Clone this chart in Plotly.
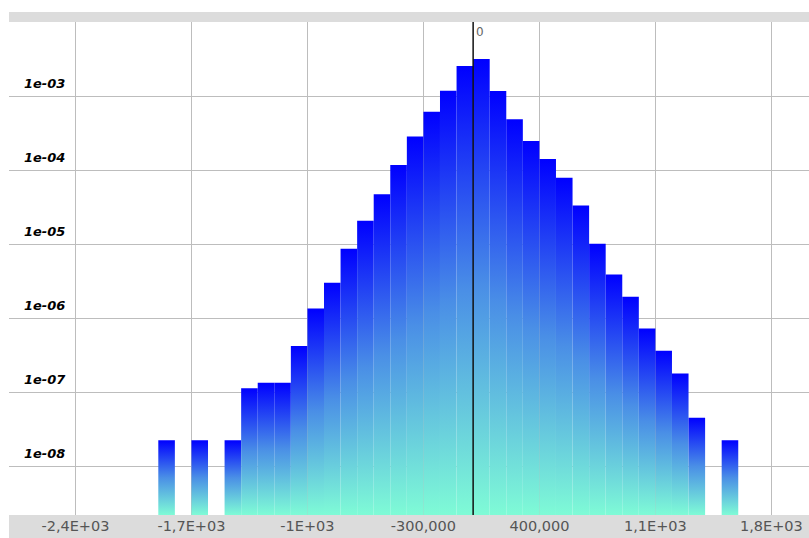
import plotly.graph_objects as go

# ---- data ----
bin_width = 100
bin_left = [-1900, -1700, -1500, -1400, -1300, -1200, -1100, -1000, -900, -800,
            -700, -600, -500, -400, -300, -200, -100, 0, 100, 200,
            300, 400, 500, 600, 700, 800, 900, 1000, 1100, 1200,
            1300, 1500]
density = [2.24e-8, 2.24e-8, 2.24e-8, 1.13e-7, 1.34e-7, 1.34e-7, 4.2e-7, 1.35e-6, 3.0e-6, 8.65e-6,
           2.07e-5, 4.7e-5, 1.17e-4, 2.85e-4, 6.14e-4, 1.18e-3, 2.54e-3, 3.16e-3, 1.17e-3, 4.84e-4,
           2.47e-4, 1.41e-4, 7.87e-5, 3.33e-5, 1.01e-5, 3.89e-6, 1.94e-6, 7.25e-7, 3.63e-7, 1.79e-7,
           4.5e-8, 2.24e-8]

x_tickvals = [-2400, -1700, -1000, -300, 400, 1100, 1800]
x_ticktext = ["-2,4E+03", "-1,7E+03", "-1E+03", "-300,000", "400,000", "1,1E+03", "1,8E+03"]
y_tickvals = [1e-3, 1e-4, 1e-5, 1e-6, 1e-7, 1e-8]
y_ticktext = ["1e-03", "1e-04", "1e-05", "1e-06", "1e-07", "1e-08"]

x_range = [-2801, 2027]
y_log_range = [-8.66, -2.0]
base = 10 ** y_log_range[0]

fig = go.Figure()
for left, val in zip(bin_left, density):
    right = left + bin_width
    fig.add_trace(go.Scatter(
        x=[left, left, right, right, left],
        y=[base, val, val, base, base],
        mode="lines", line=dict(width=0),
        fill="toself",
        fillgradient=dict(type="vertical",
                          colorscale=[[0, "#7ffbd6"], [0.5, "#4a8fe6"], [1, "#0000ff"]]),
        hoverinfo="skip", showlegend=False,
    ))

# zero line drawn over bars
fig.add_shape(type="line", xref="x", yref="paper", x0=0, x1=0, y0=0, y1=1,
              line=dict(color="#111111", width=1.5), layer="above")
# gray bands (top strip and x-axis band)
fig.add_shape(type="rect", xref="paper", yref="paper", x0=0, x1=1, y0=-23/493, y1=0,
              fillcolor="#dcdcdc", line=dict(width=0), layer="below")
fig.add_shape(type="rect", xref="paper", yref="paper", x0=0, x1=1, y0=1, y1=1 + 10/493,
              fillcolor="#dcdcdc", line=dict(width=0), layer="below")

fig.add_annotation(x=0, y=1, xref="x", yref="paper", text="0", showarrow=False,
                   xanchor="left", yanchor="top", xshift=1, yshift=-1,
                   font=dict(family="DejaVu Sans", size=12, color="#666666"))

fig.update_layout(
    width=809, height=538,
    margin=dict(l=9, r=0, t=22, b=23, autoexpand=False),
    paper_bgcolor="white", plot_bgcolor="white",
    xaxis=dict(range=x_range, tickvals=x_tickvals, ticktext=x_ticktext,
               showgrid=True, gridcolor="#bdbdbd", gridwidth=1, zeroline=False,
               showline=False, ticks="", ticklen=0, automargin=False,
               tickfont=dict(family="DejaVu Sans", size=14.5, color="#555555")),
    yaxis=dict(type="log", range=y_log_range, tickvals=y_tickvals, ticktext=y_ticktext,
               showgrid=True, gridcolor="#bdbdbd", gridwidth=1, zeroline=False,
               showline=False, ticks="", automargin=False,
               ticklabelposition="inside", ticklabelstandoff=12, ticklabelshift=-13,
               tickfont=dict(family="DejaVu Sans", size=13, color="#000000",
                             weight="bold", style="italic")),
)

fig.write_html("out.html", config={"displayModeBar": False},
               post_script="document.body.style.margin='0';document.body.style.overflow='hidden';")
